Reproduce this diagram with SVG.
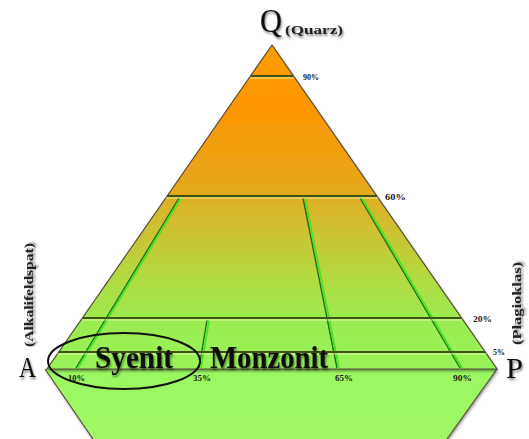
<svg xmlns="http://www.w3.org/2000/svg" width="529" height="439" viewBox="0 0 529 439">
<defs>
<linearGradient id="gTri" x1="0" y1="45" x2="0" y2="369" gradientUnits="userSpaceOnUse">
<stop offset="0" stop-color="#ff9c00"/>
<stop offset="0.2" stop-color="#fe9602"/>
<stop offset="0.45" stop-color="#e2a81c"/>
<stop offset="0.5" stop-color="#d9b52a"/>
<stop offset="0.7" stop-color="#b6d83e"/>
<stop offset="0.85" stop-color="#9aec50"/>
<stop offset="1" stop-color="#98f459"/>
</linearGradient>
<linearGradient id="gLow" x1="0" y1="369" x2="0" y2="439" gradientUnits="userSpaceOnUse">
<stop offset="0" stop-color="#9af862"/>
<stop offset="1" stop-color="#a0f862"/>
</linearGradient>
<filter id="sh" x="-20%" y="-20%" width="140%" height="160%">
<feDropShadow dx="1" dy="2" stdDeviation="1.5" flood-color="#000" flood-opacity="0.45"/>
</filter>
<filter id="tsh" x="-20%" y="-30%" width="140%" height="180%">
<feDropShadow dx="1" dy="2" stdDeviation="1.2" flood-color="#000" flood-opacity="0.5"/>
</filter>
<style>
.edge{fill:none;stroke:#5a4d3c;stroke-width:1.2}
.hz{stroke:#3f5412;stroke-width:2;fill:none}
.hzl{stroke:#eaffb8;stroke-width:1;fill:none;opacity:0.8}
.dg{stroke:#2c6a14;stroke-width:1.4;fill:none}
.dgl{stroke:#3fe62a;stroke-width:1.8;fill:none}
.pct{font-family:"Liberation Serif",serif;font-weight:bold;font-size:9px;fill:#1a1a1a}
.big{font-family:"Liberation Serif",serif;fill:#111}
.side{font-family:"Liberation Serif",serif;font-weight:bold;font-size:12px;fill:#222}
.rock{font-family:"Liberation Serif",serif;font-weight:bold;font-size:32px;fill:#111}
</style>
</defs>
<rect width="529" height="439" fill="#ffffff"/>

<g id="lower-diamond">
<polygon points="45,369 497,369 447,439 93,439" fill="url(#gLow)" filter="url(#sh)"/>
<polyline class="edge" points="45,369 93,439"/>
<polyline class="edge" points="497,369 447,439"/>
</g>

<g id="triangle">
<polygon points="272,45 47,369 497,369" fill="url(#gTri)" filter="url(#sh)"/>
<polygon points="272,45 47,369 497,369" class="edge"/>
</g>

<g id="connectors">
<line class="dg" x1="76" y1="368" x2="179" y2="198"/>
<line class="dgl" x1="78" y1="368" x2="181" y2="198"/>
<line class="dg" x1="199" y1="368" x2="207" y2="320"/>
<line class="dgl" x1="201" y1="368" x2="209" y2="320"/>
<line class="dg" x1="337" y1="368" x2="303" y2="198"/>
<line class="dgl" x1="339" y1="368" x2="305" y2="198"/>
<line class="dg" x1="460" y1="368" x2="360" y2="198"/>
<line class="dgl" x1="462" y1="368" x2="362" y2="198"/>
<line class="hz" x1="251" y1="76" x2="293" y2="76"/>
<line class="hzl" x1="250" y1="78" x2="294" y2="78"/>
<line class="hz" x1="167" y1="196" x2="377" y2="196"/>
<line class="hzl" x1="166" y1="198" x2="378" y2="198"/>
<line class="hz" x1="83" y1="318" x2="461" y2="318"/>
<line class="hzl" x1="82" y1="320" x2="462" y2="320"/>
<line class="hz" x1="59" y1="352" x2="485" y2="352"/>
<line class="hzl" x1="58" y1="354" x2="486" y2="354"/>
<line x1="47" y1="369" x2="497" y2="369" stroke="#2a2a2a" stroke-width="2.2" filter="url(#sh)"/>
</g>

<g id="labels">
<text class="big" x="260" y="32" font-size="34" textLength="22" lengthAdjust="spacingAndGlyphs" filter="url(#tsh)">Q</text>
<text class="side" x="285" y="34" textLength="58" lengthAdjust="spacingAndGlyphs" filter="url(#tsh)">(Quarz)</text>
<text class="big" x="19" y="377" font-size="29" textLength="17" lengthAdjust="spacingAndGlyphs" filter="url(#tsh)">A</text>
<text class="big" x="506" y="378" font-size="29" textLength="17" lengthAdjust="spacingAndGlyphs" filter="url(#tsh)">P</text>
<text class="side" transform="translate(33,347) rotate(-90)" textLength="104" lengthAdjust="spacingAndGlyphs" filter="url(#tsh)">(Alkalifeldspat)</text>
<text class="side" transform="translate(521,345) rotate(-90)" textLength="83" lengthAdjust="spacingAndGlyphs" filter="url(#tsh)">(Plagioklas)</text>
<text class="pct" x="303" y="80" textLength="16" lengthAdjust="spacingAndGlyphs">90%</text>
<text class="pct" x="385" y="200" textLength="21" lengthAdjust="spacingAndGlyphs">60%</text>
<text class="pct" x="473" y="322" textLength="19" lengthAdjust="spacingAndGlyphs">20%</text>
<text class="pct" x="493" y="355" textLength="12" lengthAdjust="spacingAndGlyphs">5%</text>
<text class="pct" x="68" y="381" textLength="17" lengthAdjust="spacingAndGlyphs">10%</text>
<text class="pct" x="193" y="381" textLength="18" lengthAdjust="spacingAndGlyphs">35%</text>
<text class="pct" x="335" y="381" textLength="18" lengthAdjust="spacingAndGlyphs">65%</text>
<text class="pct" x="453" y="381" textLength="19" lengthAdjust="spacingAndGlyphs">90%</text>
</g>

<g id="syenit">
<text class="rock" x="95" y="368" textLength="78" lengthAdjust="spacingAndGlyphs" filter="url(#tsh)">Syenit</text>
<ellipse cx="124" cy="361" rx="76" ry="28" fill="none" stroke="#111" stroke-width="2"/>
</g>
<g id="monzonit">
<text class="rock" x="210" y="368" textLength="118" lengthAdjust="spacingAndGlyphs" filter="url(#tsh)">Monzonit</text>
</g>
</svg>
